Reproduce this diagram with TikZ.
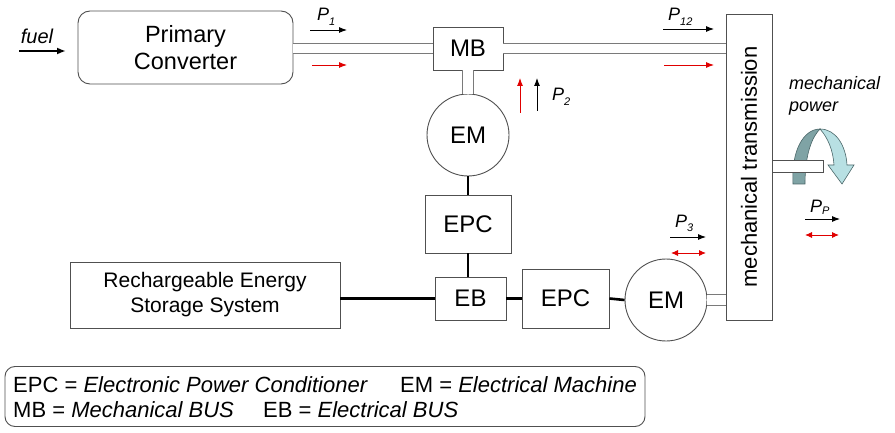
\documentclass[tikz,border=0pt]{standalone}
\usepackage{fontspec}
\setmainfont{Liberation Sans}
\usetikzlibrary{arrows.meta,calc}
\definecolor{edgec}{HTML}{505050}
\definecolor{shaftc}{HTML}{7A7A7A}
\definecolor{pred}{HTML}{E00000}
\definecolor{darkrib}{HTML}{7FA3A5}
\definecolor{lightrib}{HTML}{B8E0E3}
\definecolor{ribedge}{HTML}{4A6668}
\newcommand\Psub[2][-5pt]{P\raisebox{#1}{\fontsize{11}{11}\selectfont #2}}
\begin{document}
\begin{tikzpicture}[x=1pt,y=-1pt,
  box/.style={draw=edgec, line width=0.9pt, fill=white, inner sep=0pt, align=center},
  machine/.style={draw=edgec, line width=0.9pt, fill=white, circle, minimum size=82pt, inner sep=0pt, font=\fontsize{24}{28}\selectfont},
  shaft/.style={draw=shaftc, line width=1.1pt, double=white, double distance=9pt},
  elec/.style={line width=2.6pt, black},
  fuelarrow/.style={-{Latex[length=9pt,width=7pt]}, line width=2pt, black},
  parrow/.style={-{Latex[length=8pt,width=6pt]}, line width=0.9pt, black},
  rarrow/.style={-{Latex[length=8pt,width=6pt]}, line width=0.9pt, pred},
  rdarrow/.style={{Latex[length=7pt,width=6pt]}-{Latex[length=7pt,width=6pt]}, line width=0.9pt, pred},
  plabel/.style={font=\fontsize{18}{22}\selectfont\itshape, inner sep=0pt, anchor=base west},
  legtext/.style={font=\fontsize{22}{26}\selectfont, inner sep=0pt, anchor=west},
]
\useasboundingbox (0,0) rectangle (895,433);

% main components
\node[box, rounded corners=12pt, minimum width=215pt, minimum height=73pt, font=\fontsize{23.5}{27}\selectfont] (PC) at (185.5,47.5) {Primary\\Converter};
\node[box, minimum width=70pt, minimum height=43pt, font=\fontsize{24}{28}\selectfont] (MB) at (468,48.5) {MB};
\node[box, minimum width=46pt, minimum height=306pt] (MT) at (749,167) {};
\node[rotate=90, font=\fontsize{22}{26}\selectfont] (MTt) at (MT.center) {mechanical transmission};
\node[machine] (EM1) at (468,135) {EM};
\node[box, minimum width=86pt, minimum height=58pt, font=\fontsize{24}{28}\selectfont] (EPC1) at (468,224) {EPC};
\node[box, minimum width=71pt, minimum height=43pt, font=\fontsize{24}{28}\selectfont] (EB) at (470.5,298.5) {EB};
\node[box, minimum width=270pt, minimum height=66pt, font=\fontsize{21}{25}\selectfont] (RESS) at (205,295) {Rechargeable Energy\\Storage System};
\node[box, minimum width=87pt, minimum height=59pt, font=\fontsize{24}{28}\selectfont] (EPC2) at (565.5,298.5) {EPC};
\node[machine] (EM2) at (666,300) {EM};

% shafts
\draw[shaft] (PC.east |- MB.west) -- (MB.west);
\draw[shaft] (MB.east) -- (MB.east -| MT.west);
\draw[shaft, double distance=10pt] (MB.south) -- (EM1.north);
\draw[shaft, double distance=10pt] (EM2.east) -- (EM2.east -| MT.west);

% electrical connections
\draw[elec] (EM1.south) -- (EPC1.north);
\draw[elec] (EPC1.south) -- (EPC1.south |- EB.north);
\draw[elec] (EB.west) -- (EB.west -| RESS.east);
\draw[elec] (EB.east) -- (EB.east -| EPC2.west);
\draw[elec] (EPC2.east) -- (EM2.west);

% rotating output
\filldraw[fill=darkrib, draw=ribedge, line width=0.6pt] (793,184) .. controls (791,150) and (804,129) .. (820,129) .. controls (813,136) and (805,152) .. (805,184) -- cycle;
\filldraw[fill=lightrib, draw=ribedge, line width=0.6pt] (820,129) .. controls (836,129) and (846,146) .. (847,165) -- (854,165) -- (842,184) -- (828,165) -- (834,165) .. controls (833,150) and (828,138) .. (820,129) -- cycle;
\node[box, anchor=west, minimum width=51pt, minimum height=12pt] (OS) at (MT.east |- 0,166) {};
\node[font=\fontsize{18}{22}\selectfont\itshape, align=left, anchor=west, inner sep=0pt] (MPt) at (789,96) {mechanical\\power};

% fuel
\node[font=\fontsize{20}{24}\selectfont\itshape, inner sep=0pt] (fuelt) at (37,36) {fuel};
\coordinate (fA) at (19,51);
\coordinate (fB) at (66,51);
\draw[fuelarrow] (fA) -- (fB);

% power flow arrows
\coordinate (p1a) at (310,30); \coordinate (p1b) at (347,30);
\coordinate (r1a) at (312,65); \coordinate (r1b) at (347,65);
\draw[parrow] (p1a) -- (p1b);
\draw[rarrow] (r1a) -- (r1b);
\node[plabel] (P1) at (317,21) {\Psub{1}};

\coordinate (p12a) at (663,29); \coordinate (p12b) at (714,29);
\coordinate (r12a) at (664,65); \coordinate (r12b) at (714,65);
\draw[parrow] (p12a) -- (p12b);
\draw[rarrow] (r12a) -- (r12b);
\node[plabel] (P12) at (668,21) {\Psub{12}};

\coordinate (r2a) at (520,113); \coordinate (r2b) at (520,78);
\coordinate (p2a) at (537,111); \coordinate (p2b) at (537,78);
\draw[rarrow] (r2a) -- (r2b);
\draw[parrow] (p2a) -- (p2b);
\node[plabel] (P2) at (552,101) {\Psub{2}};

\coordinate (p3a) at (670,237); \coordinate (p3b) at (706,237);
\coordinate (r3a) at (671,253); \coordinate (r3b) at (706,253);
\draw[parrow] (p3a) -- (p3b);
\draw[rdarrow] (r3a) -- (r3b);
\node[plabel] (P3) at (675,227) {\Psub{3}};

\coordinate (ppa) at (805,219); \coordinate (ppb) at (840,219);
\coordinate (rpa) at (805,235); \coordinate (rpb) at (839,235);
\draw[parrow] (ppa) -- (ppb);
\draw[rdarrow] (rpa) -- (rpb);
\node[plabel] (PP) at (810,212) {\Psub[-2pt]{P}};

% legend
\node[box, rounded corners=10pt, minimum width=640pt, minimum height=60pt] (LEG) at (325,396.5) {};
\node[legtext] (L1) at (13,385) {EPC = \textit{Electronic Power Conditioner}};
\node[legtext] (L2) at (400,385) {EM = \textit{Electrical Machine}};
\node[legtext] (L3) at (13,410) {MB = \textit{Mechanical BUS}};
\node[legtext] (L4) at (263,410) {EB = \textit{Electrical BUS}};
\end{tikzpicture}
\end{document}
